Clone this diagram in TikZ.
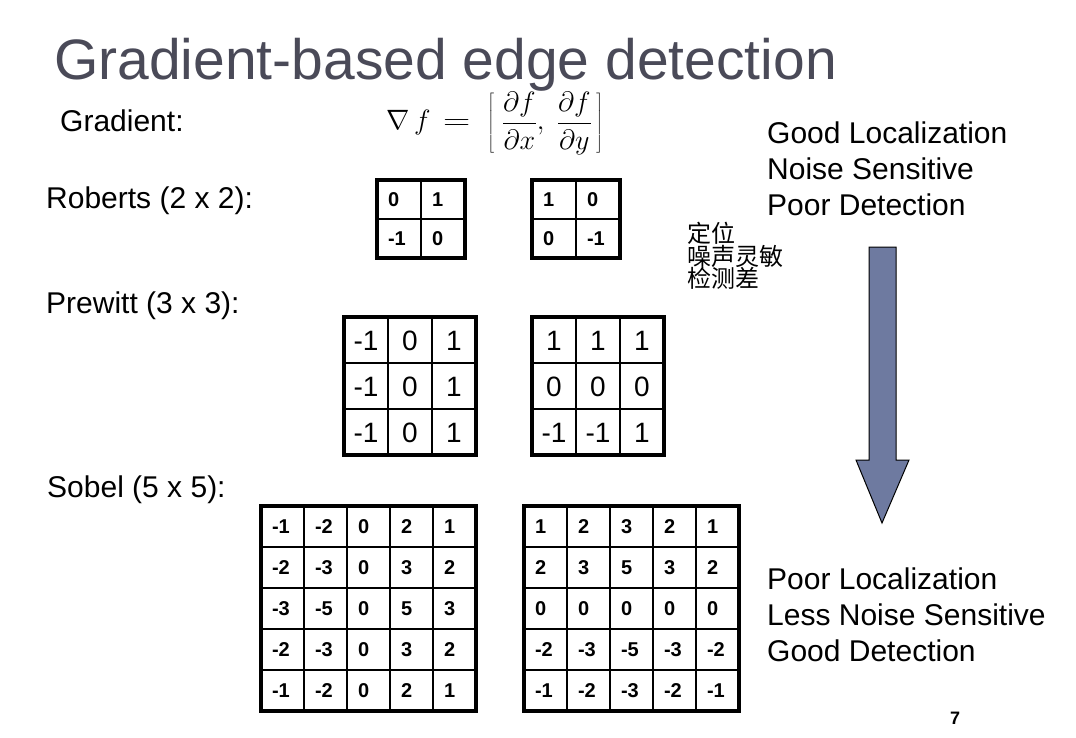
\documentclass[tikz,border=0pt]{standalone}
\usepackage{fix-cm}
\usepackage{fontspec}
\setmainfont{Liberation Sans}
\newfontfamily\cjk{Noto Sans CJK SC}
\usetikzlibrary{matrix}

\definecolor{titlegray}{HTML}{4A4A58}
\definecolor{arrowblue}{HTML}{6E7AA0}

\tikzset{
  lbl/.style={anchor=base west, inner sep=0pt, font=\fontsize{30}{36}\selectfont},
  zh/.style={anchor=base west, inner sep=0pt, font=\cjk\fontsize{24}{24}\selectfont},
  kernel/.style={matrix of nodes, anchor=north west, inner sep=0pt,
    outer sep=0pt, column sep=-2pt, row sep=-2pt},
  kbold/.style 2 args={kernel, nodes={draw, line width=2pt, outer sep=0pt,
    font=\fontsize{20}{20}\bfseries\selectfont, inner xsep=11pt, inner ysep=0pt,
    text width=#1, text height=14pt, text depth=0pt, align=left,
    minimum height=#2}},
  kplain/.style={kernel, nodes={draw, line width=2pt, outer sep=0pt,
    font=\fontsize{28}{28}\selectfont, inner sep=0pt,
    text height=20pt, text depth=0pt,
    minimum width=44pt, minimum height=46pt}},
  border/.style={line width=4pt}
}

\begin{document}
\begin{tikzpicture}[x=1pt, y=-1pt]

  %% Page and title.
  \path[use as bounding box, fill=white] (0,0) rectangle (1076,738);
  \node (title) [anchor=base west, inner sep=0pt, text=titlegray,
    font=\fontsize{57}{68}\selectfont] at (54,80) {Gradient-based edge detection};


  %% Left labels and the gradient.
  \node (grad) [lbl] at (60,132) {Gradient:};
  \node (gradf) [anchor=base west, inner sep=0pt, font=\fontsize{28}{34}\selectfont]
    at (386,130) {$\displaystyle \nabla\, f \;\,\scalebox{1.35}[1]{$=$}\;\,
    \left[\;\frac{\partial f}{\partial x},\;
    \frac{\partial f}{\partial y}\,\right]$};
  \node (rob) [lbl] at (46,208) {Roberts (2 x 2):};
  \node (pre) [lbl] at (46,313) {Prewitt (3 x 3):};
  \node (sob) [lbl] at (47,497) {Sobel (5 x 5):};


  %% Roberts kernels
  \matrix (rob1) [kbold={22pt}{39pt}] at (376,179) {
    0 & 1 \\
    -1 & 0 \\
  };
  \draw[border] (rob1-1-1.north west) rectangle (rob1-2-2.south east);

  \matrix (rob2) [kbold={22pt}{39pt}] at (531,179) {
    1 & 0 \\
    0 & -1 \\
  };
  \draw[border] (rob2-1-1.north west) rectangle (rob2-2-2.south east);


  %% Prewitt kernels
  \matrix (pre1) [kplain] at (343,316) {
    -1 & 0 & 1 \\
    -1 & 0 & 1 \\
    -1 & 0 & 1 \\
  };
  \draw[border] (pre1-1-1.north west) rectangle (pre1-3-3.south east);

  \matrix (pre2) [kplain] at (531,316) {
    1 & 1 & 1 \\
    0 & 0 & 0 \\
    -1 & -1 & 1 \\
  };
  \draw[border] (pre2-1-1.north west) rectangle (pre2-3-3.south east);


  %% Sobel kernels
  \matrix (sob1) [kbold={21pt}{41pt}] at (260,505) {
    -1 & -2 & 0 & 2 & 1 \\
    -2 & -3 & 0 & 3 & 2 \\
    -3 & -5 & 0 & 5 & 3 \\
    -2 & -3 & 0 & 3 & 2 \\
    -1 & -2 & 0 & 2 & 1 \\
  };
  \draw[border] (sob1-1-1.north west) rectangle (sob1-5-5.south east);

  \matrix (sob2) [kbold={21pt}{41pt}] at (523,505) {
    1 & 2 & 3 & 2 & 1 \\
    2 & 3 & 5 & 3 & 2 \\
    0 & 0 & 0 & 0 & 0 \\
    -2 & -3 & -5 & -3 & -2 \\
    -1 & -2 & -3 & -2 & -1 \\
  };
  \draw[border] (sob2-1-1.north west) rectangle (sob2-5-5.south east);


  %% Chinese notes
  \node (zh1) [zh] at (687,243) {定位};
  \node (zh2) [zh] at (687,265) {噪声灵敏};
  \node (zh3) [zh] at (687,287) {检测差};


  %% Right column: top, arrow, bottom.
  \node (top1) [lbl] at (767,144) {Good Localization};
  \node (top2) [lbl] at (767,180) {Noise Sensitive};
  \node (top3) [lbl] at (767,216) {Poor Detection};

  \draw[fill=arrowblue, line width=1pt, line join=miter]
    (869,247) -- (896,247) -- (896,460) -- (909,460) -- (882,523)
    -- (856,460) -- (869,460) -- cycle;

  \node (bot1) [lbl] at (767,589) {Poor Localization};
  \node (bot2) [lbl] at (767,625) {Less Noise Sensitive};
  \node (bot3) [lbl] at (767,661) {Good Detection};


  %% Page number
  \node (page) [anchor=base west, inner sep=0pt,
    font=\fontsize{18}{18}\bfseries\selectfont] at (950,724) {7};

\end{tikzpicture}
\end{document}
